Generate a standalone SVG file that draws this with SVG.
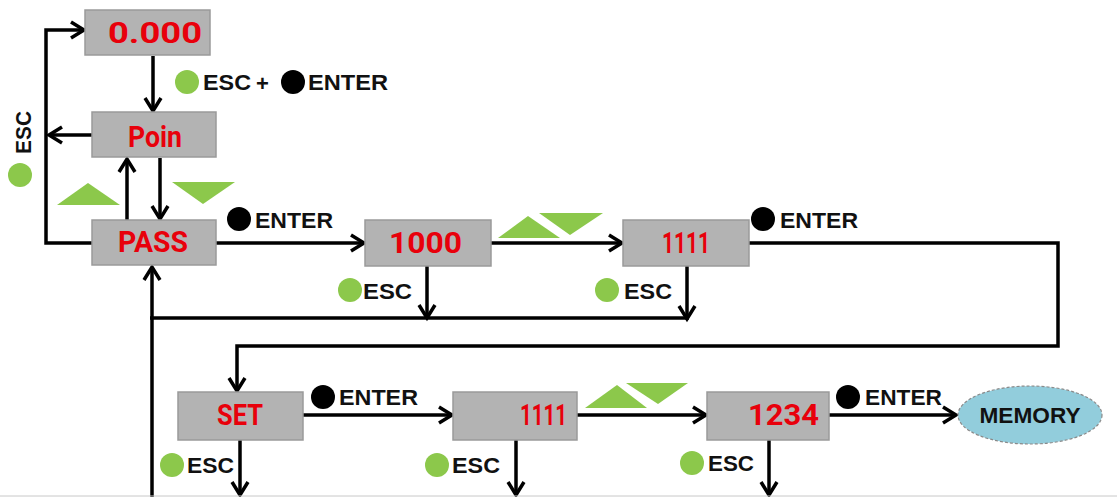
<svg xmlns="http://www.w3.org/2000/svg" width="1117" height="497" viewBox="0 0 1117 497">
<style>
.box{fill:#b3b3b3;stroke:#9a9a9a;stroke-width:1.5}
.led{fill:#e8000b;font-family:Roboto,"Liberation Sans",sans-serif;font-weight:bold;font-size:29px}
.lbl{fill:#111;font-family:"Liberation Sans",Arial,sans-serif;font-weight:bold;font-size:22px}
.g{fill:#8cc84b}
.k{fill:#000}
.ln{fill:none;stroke:#000;stroke-width:3.5}
</style>
<defs>
<marker id="ah" markerUnits="userSpaceOnUse" markerWidth="30" markerHeight="30" viewBox="-15 -15 30 30" refX="0" refY="0" orient="auto">
<path d="M-13,-8 L0,0 L-13,8" fill="none" stroke="#000" stroke-width="3.5"/>
</marker>
</defs>
<rect width="1117" height="497" fill="#fff"/>
<g id="connectors">
<path class="ln" d="M92,243 H46 V30 H84" marker-end="url(#ah)"/>
<path class="ln" d="M92,135 H49" marker-end="url(#ah)"/>
<path class="ln" d="M153,56 V111" marker-end="url(#ah)"/>
<path class="ln" d="M127,220 V159" marker-end="url(#ah)"/>
<path class="ln" d="M160,158 V219" marker-end="url(#ah)"/>
<path class="ln" d="M216,243 H364" marker-end="url(#ah)"/>
<path class="ln" d="M491,243 H622" marker-end="url(#ah)"/>
<path class="ln" d="M427,266 V318" marker-end="url(#ah)"/>
<path class="ln" d="M687,266 V319" marker-end="url(#ah)"/>
<path class="ln" d="M150,318 H689"/>
<path class="ln" d="M152,497 V267" marker-end="url(#ah)"/>
<path class="ln" d="M749,243 H1058 V346 H237 V391" marker-end="url(#ah)"/>
<path class="ln" d="M303,415 H452" marker-end="url(#ah)"/>
<path class="ln" d="M577,415 H706" marker-end="url(#ah)"/>
<path class="ln" d="M829,415 H956" marker-end="url(#ah)"/>
<path class="ln" d="M240,440 V495" marker-end="url(#ah)"/>
<path class="ln" d="M516,440 V495" marker-end="url(#ah)"/>
<path class="ln" d="M769,440 V495" marker-end="url(#ah)"/>
<line x1="0" y1="496" x2="1117" y2="496" stroke="#c8c8c8" stroke-width="1"/>
</g>
<g id="labels">
<circle class="g" cx="187" cy="82" r="12"/>
<text class="lbl" x="203" y="90" textLength="48" lengthAdjust="spacingAndGlyphs">ESC</text>
<text class="lbl" x="256" y="91" font-size="28">+</text>
<circle class="k" cx="293" cy="82" r="12"/>
<text class="lbl" x="308" y="90" textLength="80" lengthAdjust="spacingAndGlyphs">ENTER</text>
<text class="lbl" transform="translate(31,154) rotate(-90)" textLength="43" lengthAdjust="spacingAndGlyphs">ESC</text>
<circle class="g" cx="20" cy="175" r="12"/>
<polygon class="g" points="57,205 88,183 120,205"/>
<polygon class="g" points="172,182 235,182 203,204"/>
<circle class="k" cx="239" cy="219" r="12"/>
<text class="lbl" x="255" y="228" textLength="78" lengthAdjust="spacingAndGlyphs">ENTER</text>
<polygon class="g" points="498,238 528,216 560,238"/>
<polygon class="g" points="539,213 603,213 570,235"/>
<circle class="g" cx="350" cy="290" r="12"/>
<text class="lbl" x="363" y="299" textLength="49" lengthAdjust="spacingAndGlyphs">ESC</text>
<circle class="g" cx="607" cy="290" r="12"/>
<text class="lbl" x="624" y="299" textLength="48" lengthAdjust="spacingAndGlyphs">ESC</text>
<circle class="k" cx="763" cy="219" r="12"/>
<text class="lbl" x="780" y="228" textLength="78" lengthAdjust="spacingAndGlyphs">ENTER</text>
<circle class="k" cx="323" cy="397" r="12"/>
<text class="lbl" x="339" y="405" textLength="79" lengthAdjust="spacingAndGlyphs">ENTER</text>
<polygon class="g" points="585,408 617,385 647,408"/>
<polygon class="g" points="626,383 688,383 658,404"/>
<circle class="k" cx="848" cy="397" r="12"/>
<text class="lbl" x="865" y="405" textLength="77" lengthAdjust="spacingAndGlyphs">ENTER</text>
<circle class="g" cx="172" cy="465" r="12"/>
<text class="lbl" x="187" y="473" textLength="47" lengthAdjust="spacingAndGlyphs">ESC</text>
<circle class="g" cx="437" cy="465" r="12"/>
<text class="lbl" x="452" y="473" textLength="48" lengthAdjust="spacingAndGlyphs">ESC</text>
<circle class="g" cx="692" cy="463" r="12"/>
<text class="lbl" x="708" y="471" textLength="46" lengthAdjust="spacingAndGlyphs">ESC</text>
</g>
<g id="n-zero">
<rect class="box" x="85" y="10" width="125" height="45"/>
<text class="led" x="108" y="43" textLength="94" lengthAdjust="spacingAndGlyphs">0.000</text>
</g>
<g id="n-poin">
<rect class="box" x="92" y="112" width="124" height="45"/>
<text class="led" x="128" y="147" textLength="54" lengthAdjust="spacingAndGlyphs">Poin</text>
</g>
<g id="n-pass">
<rect class="box" x="92" y="220" width="124" height="45"/>
<text class="led" x="118" y="252" textLength="70" lengthAdjust="spacingAndGlyphs">PASS</text>
</g>
<g id="n-1000">
<rect class="box" x="365" y="220" width="126" height="46"/>
<text class="led" x="389" y="253" textLength="73" lengthAdjust="spacingAndGlyphs">1000</text>
</g>
<g id="n-1111a">
<rect class="box" x="623" y="220" width="126" height="46"/>
<text class="led" x="662" y="253" textLength="48" lengthAdjust="spacingAndGlyphs">1111</text>
</g>
<g id="n-set">
<rect class="box" x="178" y="392" width="125" height="48"/>
<text class="led" x="217" y="425" textLength="46" lengthAdjust="spacingAndGlyphs">SET</text>
</g>
<g id="n-1111b">
<rect class="box" x="453" y="392" width="124" height="48"/>
<text class="led" x="520" y="425" textLength="47" lengthAdjust="spacingAndGlyphs">1111</text>
</g>
<g id="n-1234">
<rect class="box" x="707" y="392" width="122" height="48"/>
<text class="led" x="748" y="425" textLength="71" lengthAdjust="spacingAndGlyphs">1234</text>
</g>
<g id="n-memory">
<ellipse cx="1030" cy="415" rx="72" ry="29" fill="#92cddc" stroke="#8a8a8a" stroke-width="1.2" stroke-dasharray="3,2"/>
<text class="lbl" x="1030" y="423" text-anchor="middle" fill="#1b1b2a" font-size="21" textLength="101" lengthAdjust="spacingAndGlyphs">MEMORY</text>
</g>
</svg>
